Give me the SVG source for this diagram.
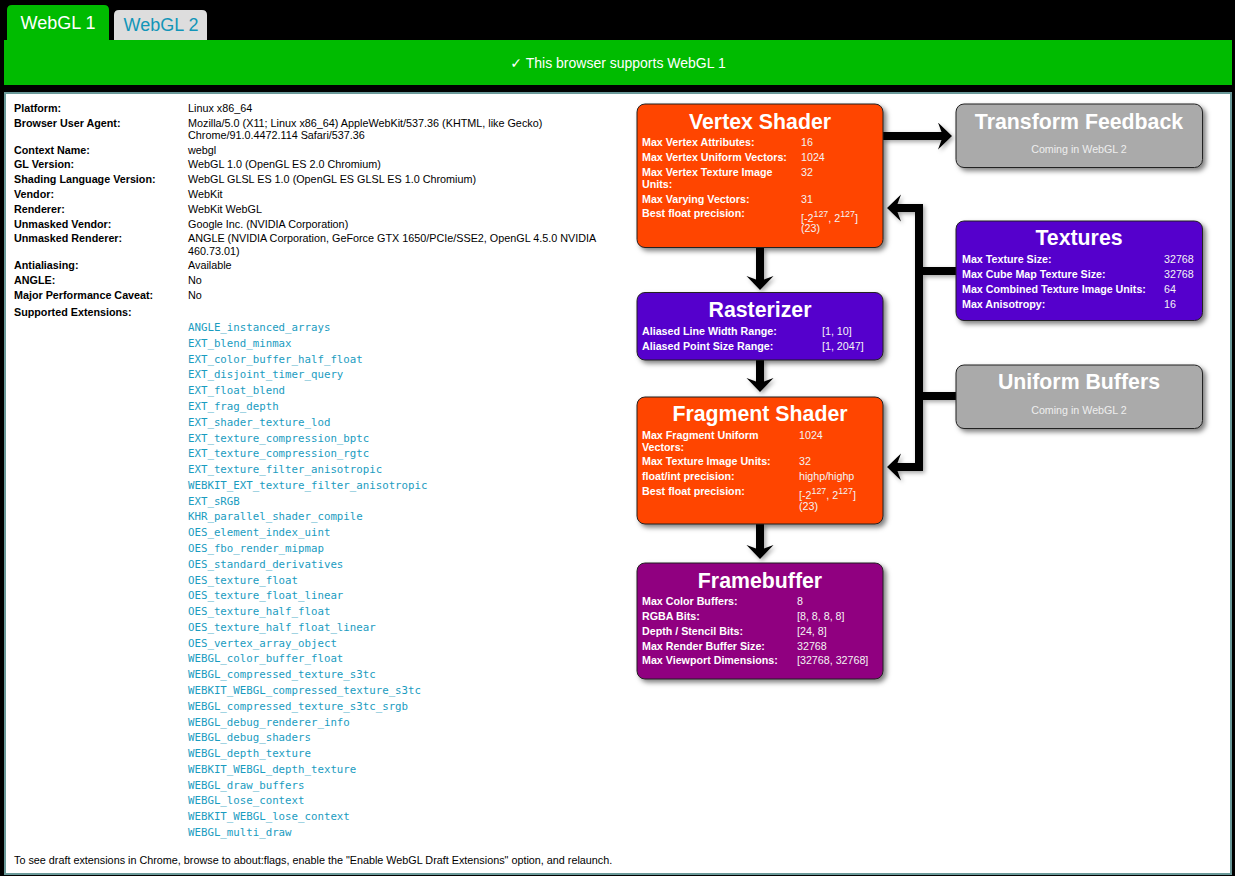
<svg xmlns="http://www.w3.org/2000/svg" width="1235" height="876" viewBox="0 0 1235 876">
<defs>
<style>
.lbl{font-family:"Liberation Sans",Arial,sans-serif;font-size:10.75px;font-weight:bold;fill:#000}
.val{font-family:"Liberation Sans",Arial,sans-serif;font-size:10.8px;fill:#000}
.ext{font-family:"DejaVu Sans Mono","Liberation Mono",monospace;font-size:10.75px;fill:#1a9cbf}
.ttl{font-family:"Liberation Sans",Arial,sans-serif;font-size:21.3px;font-weight:bold;fill:#fff;text-anchor:middle}
.bl{font-family:"Liberation Sans",Arial,sans-serif;font-size:10.7px;font-weight:bold;fill:#fff}
.bv{font-family:"Liberation Sans",Arial,sans-serif;font-size:10.7px;fill:#f4f4f4}
.sub{font-family:"Liberation Sans",Arial,sans-serif;font-size:10.7px;fill:#eeeeee;text-anchor:middle}
.box{stroke:#222;stroke-width:1}
.conn{fill:none;stroke:#000;stroke-width:8}
</style>
<filter id="sh" x="-10%" y="-10%" width="130%" height="140%">
<feDropShadow dx="3" dy="3" stdDeviation="2.5" flood-color="#000" flood-opacity="0.5"/>
</filter>
<filter id="sh2" x="-20%" y="-20%" width="150%" height="150%">
<feDropShadow dx="2" dy="2" stdDeviation="2" flood-color="#000" flood-opacity="0.35"/>
</filter>
<marker id="ah" markerUnits="userSpaceOnUse" markerWidth="16" markerHeight="30" refX="5" refY="13.5" orient="auto">
<path d="M0,0 L14,13.5 L0,27 L5,13.5 Z" fill="#000"/>
</marker>
</defs>

<rect x="0" y="0" width="1235" height="876" fill="#000"/>

<g id="tabs">
<path d="M7,40 V10 Q7,5 12,5 H104 Q109,5 109,10 V40 Z" fill="#00bb00"/>
<text x="58" y="28.5" font-family="Liberation Sans,Arial,sans-serif" font-size="18" fill="#fff" text-anchor="middle">WebGL 1</text>
<path d="M114,40 V15 Q114,10 119,10 H202 Q207,10 207,15 V40 Z" fill="#dddddd"/>
<text x="161" y="31" font-family="Liberation Sans,Arial,sans-serif" font-size="18" fill="#1295b8" text-anchor="middle">WebGL 2</text>
</g>

<g id="banner">
<rect x="4" y="40" width="1228" height="45" fill="#00bb00"/>
<text x="618" y="68" font-family="Liberation Sans,DejaVu Sans,sans-serif" font-size="14" fill="#fff" text-anchor="middle">✓ This browser supports WebGL 1</text>
</g>

<rect x="5" y="93" width="1226" height="781" fill="#fff" stroke="#6a9999" stroke-width="2"/>

<g id="info">
<text class="lbl" x="14" y="112">Platform:</text><text class="val" x="188" y="112">Linux x86_64</text>
<text class="lbl" x="14" y="127">Browser User Agent:</text><text class="val" x="188" y="127">Mozilla/5.0 (X11; Linux x86_64) AppleWebKit/537.36 (KHTML, like Gecko)</text>
<text class="val" x="188" y="139">Chrome/91.0.4472.114 Safari/537.36</text>
<text class="lbl" x="14" y="154">Context Name:</text><text class="val" x="188" y="154">webgl</text>
<text class="lbl" x="14" y="168">GL Version:</text><text class="val" x="188" y="168">WebGL 1.0 (OpenGL ES 2.0 Chromium)</text>
<text class="lbl" x="14" y="183">Shading Language Version:</text><text class="val" x="188" y="183">WebGL GLSL ES 1.0 (OpenGL ES GLSL ES 1.0 Chromium)</text>
<text class="lbl" x="14" y="198">Vendor:</text><text class="val" x="188" y="198">WebKit</text>
<text class="lbl" x="14" y="213">Renderer:</text><text class="val" x="188" y="213">WebKit WebGL</text>
<text class="lbl" x="14" y="228">Unmasked Vendor:</text><text class="val" x="188" y="228">Google Inc. (NVIDIA Corporation)</text>
<text class="lbl" x="14" y="242">Unmasked Renderer:</text><text class="val" x="188" y="242">ANGLE (NVIDIA Corporation, GeForce GTX 1650/PCIe/SSE2, OpenGL 4.5.0 NVIDIA</text>
<text class="val" x="188" y="255">460.73.01)</text>
<text class="lbl" x="14" y="269">Antialiasing:</text><text class="val" x="188" y="269">Available</text>
<text class="lbl" x="14" y="284">ANGLE:</text><text class="val" x="188" y="284">No</text>
<text class="lbl" x="14" y="299">Major Performance Caveat:</text><text class="val" x="188" y="299">No</text>
<text class="lbl" x="14" y="316">Supported Extensions:</text>
</g>

<g id="extensions">
<text class="ext" x="188" y="331">ANGLE_instanced_arrays</text>
<text class="ext" x="188" y="346.8">EXT_blend_minmax</text>
<text class="ext" x="188" y="362.6">EXT_color_buffer_half_float</text>
<text class="ext" x="188" y="378.3">EXT_disjoint_timer_query</text>
<text class="ext" x="188" y="394.1">EXT_float_blend</text>
<text class="ext" x="188" y="409.9">EXT_frag_depth</text>
<text class="ext" x="188" y="425.7">EXT_shader_texture_lod</text>
<text class="ext" x="188" y="441.5">EXT_texture_compression_bptc</text>
<text class="ext" x="188" y="457.2">EXT_texture_compression_rgtc</text>
<text class="ext" x="188" y="473">EXT_texture_filter_anisotropic</text>
<text class="ext" x="188" y="488.8">WEBKIT_EXT_texture_filter_anisotropic</text>
<text class="ext" x="188" y="504.6">EXT_sRGB</text>
<text class="ext" x="188" y="520.4">KHR_parallel_shader_compile</text>
<text class="ext" x="188" y="536.1">OES_element_index_uint</text>
<text class="ext" x="188" y="551.9">OES_fbo_render_mipmap</text>
<text class="ext" x="188" y="567.7">OES_standard_derivatives</text>
<text class="ext" x="188" y="583.5">OES_texture_float</text>
<text class="ext" x="188" y="599.3">OES_texture_float_linear</text>
<text class="ext" x="188" y="615">OES_texture_half_float</text>
<text class="ext" x="188" y="630.8">OES_texture_half_float_linear</text>
<text class="ext" x="188" y="646.6">OES_vertex_array_object</text>
<text class="ext" x="188" y="662.4">WEBGL_color_buffer_float</text>
<text class="ext" x="188" y="678.2">WEBGL_compressed_texture_s3tc</text>
<text class="ext" x="188" y="693.9">WEBKIT_WEBGL_compressed_texture_s3tc</text>
<text class="ext" x="188" y="709.7">WEBGL_compressed_texture_s3tc_srgb</text>
<text class="ext" x="188" y="725.5">WEBGL_debug_renderer_info</text>
<text class="ext" x="188" y="741.3">WEBGL_debug_shaders</text>
<text class="ext" x="188" y="757.1">WEBGL_depth_texture</text>
<text class="ext" x="188" y="772.8">WEBKIT_WEBGL_depth_texture</text>
<text class="ext" x="188" y="788.6">WEBGL_draw_buffers</text>
<text class="ext" x="188" y="804.4">WEBGL_lose_context</text>
<text class="ext" x="188" y="820.2">WEBKIT_WEBGL_lose_context</text>
<text class="ext" x="188" y="836">WEBGL_multi_draw</text>
</g>

<g id="footer">
<text class="val" x="14" y="864">To see draft extensions in Chrome, browse to about:flags, enable the "Enable WebGL Draft Extensions" option, and relaunch.</text>
</g>

<g id="connectors" filter="url(#sh2)">
<path class="conn" d="M760,248 V281" marker-end="url(#ah)"/>
<path class="conn" d="M760,360 V383" marker-end="url(#ah)"/>
<path class="conn" d="M760,524 V550" marker-end="url(#ah)"/>
<path class="conn" d="M883,136 H943" marker-end="url(#ah)"/>
<path class="conn" d="M919,204 V471"/>
<path class="conn" d="M923,208 H896" marker-end="url(#ah)"/>
<path class="conn" d="M923,467 H896" marker-end="url(#ah)"/>
<path class="conn" d="M956,271 H919"/>
<path class="conn" d="M956,396 H919"/>
</g>

<g id="vertex-shader">
<rect class="box" x="637" y="104" width="246" height="143.5" rx="8" fill="#ff4400" filter="url(#sh)"/>
<text class="ttl" x="760" y="128.5">Vertex Shader</text>
<text class="bl" x="642" y="146">Max Vertex Attributes:</text><text class="bv" x="801" y="146">16</text>
<text class="bl" x="642" y="161">Max Vertex Uniform Vectors:</text><text class="bv" x="801" y="161">1024</text>
<text class="bl" x="642" y="176">Max Vertex Texture Image</text><text class="bv" x="801" y="176">32</text>
<text class="bl" x="642" y="188">Units:</text>
<text class="bl" x="642" y="203">Max Varying Vectors:</text><text class="bv" x="801" y="203">31</text>
<text class="bl" x="642" y="217">Best float precision:</text>
<text class="bv" x="801" y="221.5">[-2<tspan dy="-5" font-size="8.9">127</tspan><tspan dy="5">, 2</tspan><tspan dy="-5" font-size="8.9">127</tspan><tspan dy="5">]</tspan></text>
<text class="bv" x="801" y="232">(23)</text>
</g>

<g id="rasterizer">
<rect class="box" x="637" y="292.5" width="246" height="67.5" rx="8" fill="#5500cc" filter="url(#sh)"/>
<text class="ttl" x="760" y="317.3">Rasterizer</text>
<text class="bl" x="642" y="335">Aliased Line Width Range:</text><text class="bv" x="822" y="335">[1, 10]</text>
<text class="bl" x="642" y="350">Aliased Point Size Range:</text><text class="bv" x="822" y="350">[1, 2047]</text>
</g>

<g id="fragment-shader">
<rect class="box" x="637" y="397" width="246" height="127" rx="8" fill="#ff4400" filter="url(#sh)"/>
<text class="ttl" x="760" y="420.5">Fragment Shader</text>
<text class="bl" x="642" y="439">Max Fragment Uniform</text><text class="bv" x="799" y="439">1024</text>
<text class="bl" x="642" y="451">Vectors:</text>
<text class="bl" x="642" y="465">Max Texture Image Units:</text><text class="bv" x="799" y="465">32</text>
<text class="bl" x="642" y="480">float/int precision:</text><text class="bv" x="799" y="480">highp/highp</text>
<text class="bl" x="642" y="495">Best float precision:</text>
<text class="bv" x="799" y="498.5">[-2<tspan dy="-5" font-size="8.9">127</tspan><tspan dy="5">, 2</tspan><tspan dy="-5" font-size="8.9">127</tspan><tspan dy="5">]</tspan></text>
<text class="bv" x="799" y="509.5">(23)</text>
</g>

<g id="framebuffer">
<rect class="box" x="637" y="563" width="246" height="116" rx="8" fill="#900080" filter="url(#sh)"/>
<text class="ttl" x="760" y="588.3">Framebuffer</text>
<text class="bl" x="642" y="605">Max Color Buffers:</text><text class="bv" x="797" y="605">8</text>
<text class="bl" x="642" y="620">RGBA Bits:</text><text class="bv" x="797" y="620">[8, 8, 8, 8]</text>
<text class="bl" x="642" y="635">Depth / Stencil Bits:</text><text class="bv" x="797" y="635">[24, 8]</text>
<text class="bl" x="642" y="650">Max Render Buffer Size:</text><text class="bv" x="797" y="650">32768</text>
<text class="bl" x="642" y="664">Max Viewport Dimensions:</text><text class="bv" x="797" y="664">[32768, 32768]</text>
</g>

<g id="transform-feedback">
<rect class="box" x="956" y="104" width="246.5" height="63.5" rx="8" fill="#aaaaaa" filter="url(#sh)"/>
<text class="ttl" x="1079" y="128.5">Transform Feedback</text>
<text class="sub" x="1079" y="152.5">Coming in WebGL 2</text>
</g>

<g id="textures">
<rect class="box" x="956" y="221" width="246.5" height="99.5" rx="8" fill="#5500cc" filter="url(#sh)"/>
<text class="ttl" x="1079" y="245">Textures</text>
<text class="bl" x="962" y="263">Max Texture Size:</text><text class="bv" x="1164" y="263">32768</text>
<text class="bl" x="962" y="278">Max Cube Map Texture Size:</text><text class="bv" x="1164" y="278">32768</text>
<text class="bl" x="962" y="293">Max Combined Texture Image Units:</text><text class="bv" x="1164" y="293">64</text>
<text class="bl" x="962" y="308">Max Anisotropy:</text><text class="bv" x="1164" y="308">16</text>
</g>

<g id="uniform-buffers">
<rect class="box" x="956" y="365" width="246.5" height="63.5" rx="8" fill="#aaaaaa" filter="url(#sh)"/>
<text class="ttl" x="1079" y="389.3">Uniform Buffers</text>
<text class="sub" x="1079" y="413.5">Coming in WebGL 2</text>
</g>
</svg>
